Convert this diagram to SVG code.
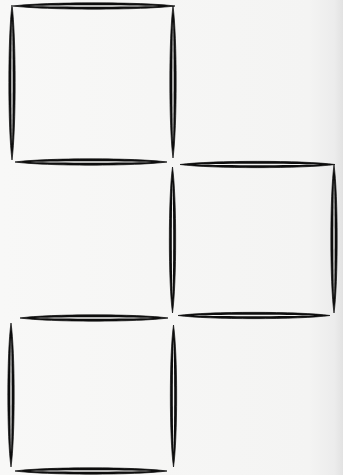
<svg xmlns="http://www.w3.org/2000/svg" width="343" height="475" viewBox="0 0 343 475">
<defs>
<linearGradient id="bg" x1="0" y1="0" x2="1" y2="0">
<stop offset="0" stop-color="#f8f8f7"/>
<stop offset="0.9" stop-color="#f4f4f3"/>
<stop offset="0.975" stop-color="#ececec"/>
<stop offset="1" stop-color="#e2e2e2"/>
</linearGradient>
<style>
.m{fill:#0d0d0d;stroke:#0d0d0d;stroke-width:0.7;stroke-linejoin:round}
.s{fill:#f2f2f1;stroke:none}
</style>
</defs>
<rect width="343" height="475" fill="url(#bg)"/>
<g id="square-top">
<path class="m" d="M13,6 C45.4,1.8 142.6,1.8 175,6 C142.6,10.2 45.4,10.2 13,6 Z"/>
<path class="s" d="M29.2,6 C61.6,5.1 126.4,5.1 158.8,6 C126.4,6.9 61.6,6.9 29.2,6 Z"/>
<path class="m" d="M12,5 C7.8,36 7.8,129 12,160 C16.2,129 16.2,36 12,5 Z"/>
<path class="s" d="M12,20.5 C11.1,51.5 11.1,113.5 12,144.5 C12.9,113.5 12.9,51.5 12,20.5 Z"/>
<path class="m" d="M173,6 C168.8,36.4 168.8,127.6 173,158 C177.2,127.6 177.2,36.4 173,6 Z"/>
<path class="s" d="M173,21.2 C172.1,51.6 172.1,112.4 173,142.8 C173.9,112.4 173.9,51.6 173,21.2 Z"/>
<path class="m" d="M15,162 C45.4,157.8 136.6,157.8 167,162 C136.6,166.2 45.4,166.2 15,162 Z"/>
<path class="s" d="M30.2,162 C60.6,161.1 121.4,161.1 151.8,162 C121.4,162.9 60.6,162.9 30.2,162 Z"/>
</g>
<g id="square-middle">
<path class="m" d="M180,164.5 C211,160.3 304,160.3 335,164.5 C304,168.7 211,168.7 180,164.5 Z"/>
<path class="s" d="M195.5,164.5 C226.5,163.6 288.5,163.6 319.5,164.5 C288.5,165.4 226.5,165.4 195.5,164.5 Z"/>
<path class="m" d="M172.5,167 C168.3,196.2 168.3,283.8 172.5,313 C176.7,283.8 176.7,196.2 172.5,167 Z"/>
<path class="s" d="M172.5,181.6 C171.6,210.8 171.6,269.2 172.5,298.4 C173.4,269.2 173.4,210.8 172.5,181.6 Z"/>
<path class="m" d="M334,165 C329.8,194.6 329.8,283.4 334,313 C338.2,283.4 338.2,194.6 334,165 Z"/>
<path class="s" d="M334,179.8 C333.1,209.4 333.1,268.6 334,298.2 C334.9,268.6 334.9,209.4 334,179.8 Z"/>
<path class="m" d="M178,315.5 C208.4,311.3 299.6,311.3 330,315.5 C299.6,319.7 208.4,319.7 178,315.5 Z"/>
<path class="s" d="M193.2,315.5 C223.6,314.6 284.4,314.6 314.8,315.5 C284.4,316.4 223.6,316.4 193.2,315.5 Z"/>
</g>
<g id="square-bottom">
<path class="m" d="M20,318 C49.6,313.8 138.4,313.8 168,318 C138.4,322.2 49.6,322.2 20,318 Z"/>
<path class="s" d="M34.8,318 C64.4,317.1 123.6,317.1 153.2,318 C123.6,318.9 64.4,318.9 34.8,318 Z"/>
<path class="m" d="M11,323 C6.8,351.8 6.8,438.2 11,467 C15.2,438.2 15.2,351.8 11,323 Z"/>
<path class="s" d="M11,337.4 C10.1,366.2 10.1,423.8 11,452.6 C11.9,423.8 11.9,366.2 11,337.4 Z"/>
<path class="m" d="M173.5,325 C169.3,353.4 169.3,438.6 173.5,467 C177.7,438.6 177.7,353.4 173.5,325 Z"/>
<path class="s" d="M173.5,339.2 C172.6,367.6 172.6,424.4 173.5,452.8 C174.4,424.4 174.4,367.6 173.5,339.2 Z"/>
<path class="m" d="M15,471 C45.4,466.8 136.6,466.8 167,471 C136.6,475.2 45.4,475.2 15,471 Z"/>
<path class="s" d="M30.2,471 C60.6,470.1 121.4,470.1 151.8,471 C121.4,471.9 60.6,471.9 30.2,471 Z"/>
</g>
<g id="connectors"/>
</svg>
